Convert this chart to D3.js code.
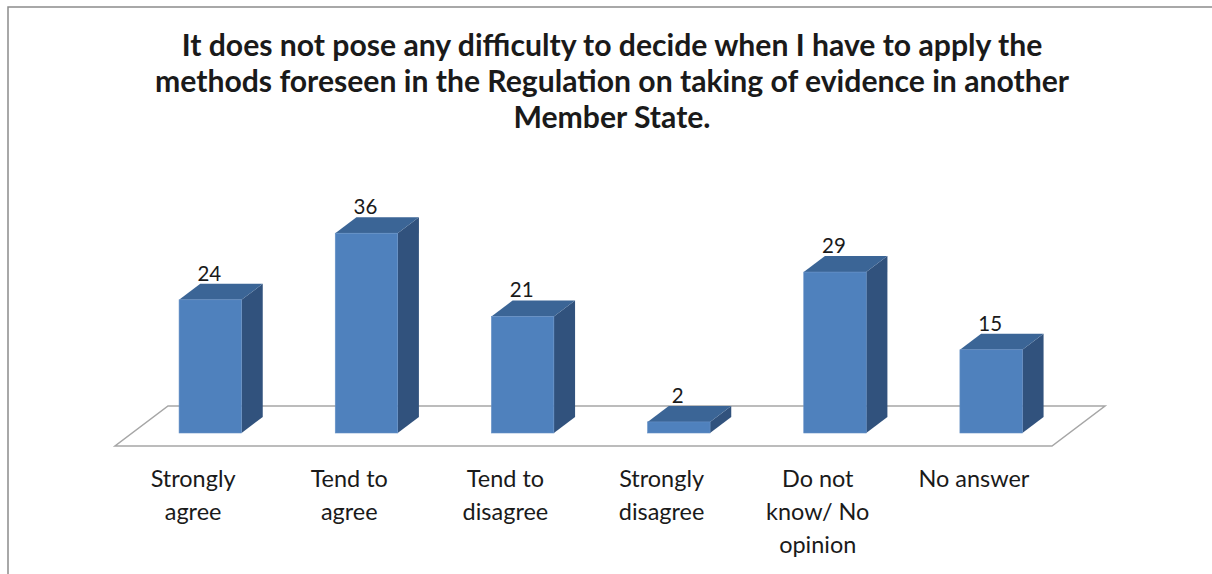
<!DOCTYPE html>
<html><head><meta charset="utf-8">
<script src="https://cdn.jsdelivr.net/npm/d3@7/dist/d3.min.js"></script>
<style>html,body{margin:0;padding:0;background:#fff;}svg{display:block;}</style>
</head><body>
<svg id="c" width="1212" height="574"></svg>
<script>
const titleLines = ["It does not pose any difficulty to decide when I have to apply the",
  "methods foreseen in the Regulation on taking of evidence in another",
  "Member State."];
const categories = ["Strongly agree","Tend to agree","Tend to disagree","Strongly disagree","Do not know/ No opinion","No answer"];
const categoryLines = [["Strongly","agree"],["Tend to","agree"],["Tend to","disagree"],["Strongly","disagree"],["Do not","know/ No","opinion"],["No answer"]];
const values = [24,36,21,2,29,15];

const svg = d3.select("#c");

// frame
svg.append("rect").attr("x",8).attr("y",7).attr("width",1240).attr("height",620)
  .attr("fill","#fff").attr("stroke","#8c8c8c").attr("stroke-width",1.5);

// title
const tfont = "Lato, 'Open Sans', sans-serif";
const tg = svg.append("g");
const t0 = tg.append("text").attr("font-family",tfont).attr("font-weight","bold").attr("font-size",100).text(titleLines[0]);
const tw = t0.node().getComputedTextLength();
t0.remove();
const tSize = 100*861/tw;
titleLines.forEach((l,i)=>{
  tg.append("text").attr("x",612).attr("y",56+i*36).attr("text-anchor","middle")
    .attr("font-family",tfont).attr("font-weight","bold").attr("font-size",tSize)
    .attr("fill","#1a1a1a").text(l);
});

// 3D geometry
const floorFront = 446, floorLeft = 115, floorRight = 1052;
const depth = [53,-40];
const x = d3.scaleBand().domain(categories).range([floorLeft,floorRight]).paddingInner(0.6).paddingOuter(0.3);
const y = d3.scaleLinear().domain([0,40]).range([0,222]);
const dFront = 0.325, dBack = 0.725;

// floor
const fp = [[floorLeft,floorFront],[floorRight,floorFront],[floorRight+depth[0],floorFront+depth[1]],[floorLeft+depth[0],floorFront+depth[1]]];
svg.append("polygon").attr("points",fp.map(p=>p.join(",")).join(" "))
  .attr("fill","#fff").attr("stroke","#a6a6a6").attr("stroke-width",1.5);

const ox = depth[0]*dFront, oy = depth[1]*dFront;
const ddx = depth[0]*(dBack-dFront), ddy = depth[1]*(dBack-dFront);
const bars = svg.append("g");
categories.forEach((c,i)=>{
  const x0 = x(c)+ox, x1 = x0+x.bandwidth();
  const yb = floorFront+oy, yt = yb - y(values[i]);
  const g = bars.append("g");
  g.append("polygon").attr("points",[[x1,yb],[x1+ddx,yb+ddy],[x1+ddx,yt+ddy],[x1,yt]].map(p=>p.join(",")).join(" "))
    .attr("fill","#31527d");
  g.append("polygon").attr("points",[[x0,yt],[x1,yt],[x1+ddx,yt+ddy],[x0+ddx,yt+ddy]].map(p=>p.join(",")).join(" "))
    .attr("fill","#3b6596");
  g.append("rect").attr("x",x0).attr("y",yt).attr("width",x.bandwidth()).attr("height",yb-yt)
    .attr("fill","#4f81bd").attr("stroke","#6590c6").attr("stroke-width",0.6);
  g.append("text").attr("x",(x0+x1)/2-1).attr("y",yt+ddy-3).attr("text-anchor","middle")
    .attr("font-family","Lato, 'Open Sans', sans-serif").attr("font-size",20.5).attr("fill","#1a1a1a")
    .text(values[i]);
});

// category labels
const lfont = "Lato, 'Open Sans', sans-serif";
const m = svg.append("text").attr("font-family",lfont).attr("font-size",100).text("No answer");
const lw = m.node().getComputedTextLength(); m.remove();
const lSize = 100*111/lw;
categories.forEach((c,i)=>{
  const cx = x(c) - x.step()*x.paddingInner()/2 + x.step()/2;
  const t = svg.append("text").attr("text-anchor","middle").attr("font-family",lfont)
    .attr("font-size",lSize).attr("fill","#1a1a1a");
  categoryLines[i].forEach((l,j)=>{
    t.append("tspan").attr("x",cx).attr("y",487+j*33).text(l);
  });
});
</script>
</body></html>
